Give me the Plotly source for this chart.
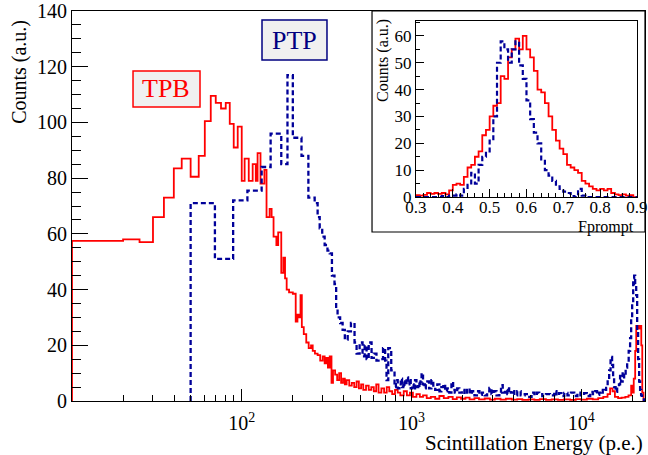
import plotly.graph_objects as go

# main histogram: left bin edges (p.e.) and counts, last edge closes the histogram
tpb_edges = [10, 20, 25, 30, 34.8, 39.8, 44.3, 50, 55.8, 60.6, 65.7, 70.3, 75.5, 80.5, 85, 89.7, 94.7,
             100, 104, 110, 116, 121, 124, 129, 136, 140, 146, 150, 154, 160, 164, 171, 176, 180, 184,
             190, 200, 208, 213, 218, 222, 226, 232, 240, 248, 256, 262, 270, 280, 290, 300, 308, 315,
             322, 330, 338, 345, 355, 365, 375, 385, 395, 405, 415, 430, 445, 460, 475, 490, 505, 520,
             540, 560, 580, 600, 620, 640, 665, 690, 715, 740, 770, 800, 830, 860, 900, 940, 980, 1020,
             1070, 1120, 1170, 1230, 1300, 1380, 1460, 1550, 1650, 1750, 1850, 1960, 2080, 2200, 2350,
             2500, 2700, 2900, 3100, 3350, 3600, 3900, 4200, 4500, 4900, 5300, 5700, 6200, 6700, 7300,
             7900, 8600, 9300, 10000, 10800, 11700, 12600, 13500, 14300, 14800, 15300, 15800, 16500,
             17300, 18200, 19000, 19700, 20100, 20400, 20800, 21100, 21600, 22100, 22600, 22900, 23300]
tpb_counts = [57.5, 58, 57, 66, 73, 83.5, 87, 80.5, 88, 100.5, 109.5, 107, 105, 107, 99.5, 91, 98.5,
              79, 87, 79, 85, 79, 89, 78, 83, 66, 69, 66, 59, 56, 60.5, 46, 51.5, 44, 40,
              39, 38.5, 28.5, 31, 30, 38, 26.5, 24, 21, 19, 20, 18, 17, 16.5, 14.5, 16, 13.5, 15.5,
              12, 16, 6.5, 11, 9.5, 7.5, 10, 6.5, 8, 6, 7.5, 5.5, 6.5, 5, 7, 4.5, 6, 4,
              5.5, 4, 5, 3.5, 6, 3, 4.5, 3, 5, 3.5, 2.5, 4, 3, 2, 3.5, 2, 3, 1.5,
              2.5, 1.5, 2, 1, 1.5, 0.8, 1.8, 1, 1.5, 0.7, 1.3, 0.8, 1.2, 0.6, 1,
              0.6, 0.9, 0.5, 0.8, 0.5, 0.8, 0.5, 0.7, 0.4, 0.6, 0.4, 0.7, 0.4, 0.6, 0.4,
              0.6, 0.4, 0.7, 0.5, 0.8, 0.6, 1, 1.5, 2.5, 4.5, 3.5, 1.5, 1,
              1.2, 1.5, 2, 5.5, 3, 8, 18, 27, 26, 27, 20, 3]

# PTP: peak region below 800 p.e., then the long noisy tail
ptp_edges = [50, 69.5, 89, 108, 131, 148, 171, 186, 200, 225,
             247, 269, 280, 288, 298, 308, 320, 330, 340, 352,
             360, 367, 380, 393, 405, 421, 440, 462, 475, 495,
             515, 530, 544, 560, 582, 600, 622, 650, 680, 700,
             713, 730, 760,
             795, 810, 830, 849, 865, 880, 895, 910, 935, 955,
             973, 990, 1010, 1030, 1050, 1070, 1090, 1114, 1130, 1147,
             1170, 1192, 1215, 1240, 1270, 1311, 1345, 1380, 1420, 1462,
             1500, 1540, 1580, 1620, 1670, 1720, 1760, 1800, 1860, 1915,
             1980, 2050, 2120, 2200, 2270, 2350, 2430, 2513, 2600, 2700,
             2790, 2877, 2960, 3050, 3170, 3295, 3370, 3450, 3560, 3672,
             3760, 3850, 3950, 4036, 4200, 4400, 4650, 4945, 5100, 5300,
             5480, 5660, 5900, 6200, 6550, 6936, 7150, 7400, 7650, 7945,
             8300, 8700, 9100, 9500, 9900, 10400, 10800, 11300, 11700, 12100,
             12400, 12770, 13100, 13400, 13700, 14030, 14320, 14620, 14900, 15210,
             15420, 15630, 15950, 16290, 16700, 16950, 17180, 17550, 17910, 18280,
             18660, 19050, 19420, 19700, 19970, 20250, 20520, 20800, 21090, 21370,
             21650, 21950, 22240, 22550, 22860, 23400]
ptp_counts = [71, 51, 72, 75.5, 84, 96, 85, 117, 94.5, 88,
              73, 71, 66, 62, 59, 56, 54, 53, 45, 42,
              33, 30, 28, 25.5, 22, 25, 28, 21, 17, 21,
              16, 20, 15, 21, 15.5, 17, 14.5, 15, 19, 14.5,
              7.5, 19, 11,
              5, 7.5, 4.5, 6, 8, 5, 7, 5.5, 8.5, 6,
              8, 4.5, 6, 4, 7.5, 5, 6.5, 5, 7, 10,
              6, 4.5, 6, 7, 4.5, 7.5, 5, 4, 6, 3.5,
              5, 6, 3.5, 4.5, 3, 6.8, 4, 3, 4.5, 3,
              4, 2.5, 4.5, 2.5, 3.5, 2, 3.5, 2.2, 3, 2,
              3.5, 4.7, 2.5, 3.5, 2, 3, 5.7, 3, 4, 2.5,
              4.5, 3, 4, 2, 3.5, 2, 2.5, 1.5, 3, 2,
              3, 2.5, 1.8, 2.5, 2, 3.5, 2, 2.8, 1.8, 2.9,
              2, 3, 1.8, 3, 2, 2.8, 1.8, 3.3, 2.5, 3.5,
              2.2, 3, 4, 3, 4, 4.7, 7, 11, 15.8, 13,
              8.6, 5, 3.3, 5, 6, 9, 7, 10.4, 8.5, 12,
              13.6, 18, 22.6, 30, 35, 44, 45, 42, 38, 25,
              15, 7, 4, 2, 1]

# inset: Fprompt bins of 0.01 from 0.30 to 0.90
fp_edges = [round(0.30 + 0.01 * i, 2) for i in range(61)]
fp_tpb = [0.7, 0.5, 0.8, 1.5, 1.2, 1.5, 1.2, 1.5, 1.0, 2.5,
          4.5, 5, 4.5, 7.5, 11, 12, 15, 17, 23, 25,
          30, 34, 35, 45, 44, 52, 55, 59, 55, 60,
          55, 52, 47, 40, 39, 35, 30, 25, 21, 18,
          16, 12, 11, 10, 9, 6, 5, 4, 3, 2.5,
          3, 2.5, 3, 1.5, 1, 0.7, 1, 0.5, 0.7, 0]
fp_ptp = [0, 0, 0, 0, 0, 0, 0, 0.3, 0, 0.5,
          0.5, 1, 0.5, 3, 4.5, 9, 5, 12, 15, 17,
          21, 30, 50, 58, 55, 50, 55, 58, 49, 44,
          36, 29, 24, 20, 14, 10, 8, 6, 4, 3,
          2, 1.5, 0.3, 0, 3, 0.5, 0, 0, 0, 0,
          0, 0, 0, 0, 0, 0, 0, 0, 0, 0]

RED = "#ff0000"
NAVY = "#000099"
FONT = "Liberation Serif"


def steps(edges, counts):
    n = len(counts)
    xs = [edges[0]] + list(edges[:n]) + [edges[n], edges[n]]
    ys = [0] + list(counts) + [counts[-1], 0]
    return xs, ys


fig = go.Figure()

x, y = steps(tpb_edges, tpb_counts)
fig.add_trace(go.Scatter(x=x, y=y, mode="lines", line=dict(color=RED, width=1.8, shape="hv")))
x, y = steps(ptp_edges, ptp_counts)
fig.add_trace(go.Scatter(x=x, y=y, mode="lines",
                         line=dict(color=NAVY, width=2.3, shape="hv", dash="5px,3px")))

x, y = steps(fp_edges, fp_tpb)
fig.add_trace(go.Scatter(x=x, y=y, mode="lines", xaxis="x2", yaxis="y2",
                         line=dict(color=RED, width=1.8, shape="hv")))
x, y = steps(fp_edges, fp_ptp)
fig.add_trace(go.Scatter(x=x, y=y, mode="lines", xaxis="x2", yaxis="y2",
                         line=dict(color=NAVY, width=2.2, shape="hv", dash="5px,3px")))

minor_e = [20, 30, 40, 50, 60, 70, 80, 90, 200, 300, 400, 500, 600, 700, 800, 900,
           2000, 3000, 4000, 5000, 6000, 7000, 8000, 9000, 20000]

axis_common = dict(showline=True, linecolor="black", linewidth=1, mirror=True, showgrid=False,
                   zeroline=False, ticks="inside", tickcolor="black", automargin=False)

fig.update_layout(
    width=648, height=455,
    margin=dict(l=72, r=3, t=11, b=54),
    plot_bgcolor="white", paper_bgcolor="white",
    showlegend=False,
    font=dict(family=FONT, color="black"),
    xaxis=dict(type="log", range=[1, 4.376], tickvals=[100, 1000, 10000],
               ticktext=["10<sup>2</sup>", "10<sup>3</sup>", "10<sup>4</sup>"],
               ticklen=12, tickfont=dict(size=20), ticklabelstandoff=4,
               minor=dict(tickvals=minor_e, ticklen=6, ticks="inside", tickcolor="black"),
               **axis_common),
    yaxis=dict(range=[0, 140], dtick=20, ticklen=16, tickfont=dict(size=20),
               minor=dict(dtick=5, ticklen=9, ticks="inside", tickcolor="black"),
               **axis_common),
    xaxis2=dict(domain=[0.6003, 0.986], anchor="y2", range=[0.3, 0.9], dtick=0.1,
                tickformat=".1f", ticklen=8, tickfont=dict(size=17), ticklabelstandoff=-5,
                minor=dict(dtick=0.02, ticklen=4, ticks="inside", tickcolor="black"),
                **axis_common),
    yaxis2=dict(domain=[0.523, 0.974], anchor="x2", range=[0, 65.5], dtick=10,
                ticklen=8, tickfont=dict(size=17),
                minor=dict(dtick=5, ticklen=4, ticks="inside", tickcolor="black"),
                **axis_common),
)

fig.add_shape(type="rect", xref="paper", yref="paper", x0=0.5236, x1=1.0, y0=0.4333, y1=1.0,
              line=dict(color="black", width=1.2), fillcolor="white", layer="below")
fig.add_shape(type="rect", xref="paper", yref="paper", x0=0.1065, x1=0.2234, y0=0.7538, y1=0.846,
              line=dict(color=RED, width=1.5), fillcolor="#f0f0f0", layer="below")
fig.add_shape(type="rect", xref="paper", yref="paper", x0=0.3316, x1=0.445, y0=0.8744, y1=0.9769,
              line=dict(color="#000080", width=1.5), fillcolor="#f0f0f0", layer="below")


def label(text, x, y, size, color="black", angle=0, xanchor="center"):
    fig.add_annotation(text=text, x=x, y=y, xref="paper", yref="paper", showarrow=False,
                       xanchor=xanchor, yanchor="middle", textangle=angle,
                       font=dict(size=size, color=color))


label("TPB", 0.1649, 0.8, 26, RED)
label("PTP", 0.3883, 0.9256, 26, "#000080")
label("Counts (a.u.)", -0.091, 0.8436, 20, angle=-90)
label("Scintillation Energy (p.e.)", 1.0, -0.108, 21, xanchor="right")
label("Counts (a.u.)", 0.5428, 0.8718, 16, angle=-90)
label("Fprompt", 0.9843, 0.446, 16, xanchor="right")

# the page has a default body margin; drop it so the figure sits at the window corner
fig.write_html("out.html", config={"displayModeBar": False},
               post_script="document.body.style.margin='0';")
